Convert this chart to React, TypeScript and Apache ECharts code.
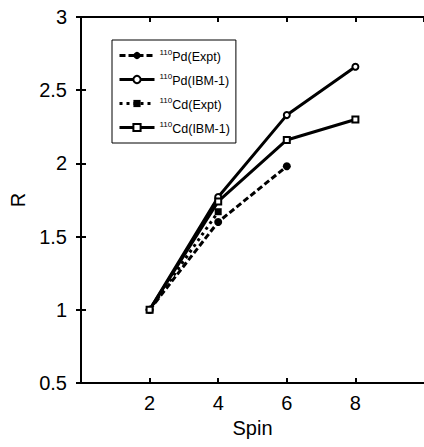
import React, { useEffect, useRef } from "react";
import * as echarts from "echarts";

const spins = [2, 4, 6, 8];
const pdExpt = [1.0, 1.6, 1.98];
const pdIbm = [1.0, 1.77, 2.33, 2.66];
const cdExpt = [1.0, 1.67];
const cdIbm = [1.0, 1.74, 2.16, 2.3];
const yTicks = [0.5, 1, 1.5, 2, 2.5, 3];

const pairs = (vals: number[]) => vals.map((v, i) => [spins[i], v]);

export default function App() {
  const ref = useRef<HTMLDivElement>(null);
  useEffect(() => {
    if (!ref.current) return;
    const chart = echarts.init(ref.current, null, { renderer: "svg" });
    const font = "Liberation Sans, Arial, sans-serif";
    const axisCommon = {
      axisLine: { lineStyle: { color: "#000", width: 2 } },
      axisTick: { inside: true, length: 5, lineStyle: { color: "#000", width: 2 } },
      splitLine: { show: false },
    };
    const mkName = (iso: string, name: string) => `{sup|${iso}}{n|${name}}`;
    chart.setOption({
      animation: false,
      backgroundColor: "#fff",
      textStyle: { fontFamily: font },
      grid: { left: 80, top: 17, right: -1, bottom: 64, containLabel: false },
      legend: {
        orient: "vertical",
        left: 112,
        top: 40,
        padding: [8, 6, 8, 6],
        itemWidth: 35,
        itemHeight: 9,
        itemGap: 9,
        borderColor: "#000",
        borderWidth: 1,
        backgroundColor: "#fff",
        lineStyle: { width: 3 },
        data: ["pdExpt", "pdIbm", "cdExpt", "cdIbm"],
        formatter: (name: string) => {
          const m: Record<string, string> = {
            pdExpt: mkName("110", "Pd(Expt)"),
            pdIbm: mkName("110", "Pd(IBM-1)"),
            cdExpt: mkName("110", "Cd(Expt)"),
            cdIbm: mkName("110", "Cd(IBM-1)"),
          };
          return m[name];
        },
        textStyle: {
          fontFamily: font,
          color: "#000",
          rich: {
            sup: { fontSize: 8, lineHeight: 15, verticalAlign: "top", fontFamily: font, color: "#000" },
            n: { fontSize: 12.5, lineHeight: 15, verticalAlign: "bottom", fontFamily: font, color: "#000" },
          },
        },
      },
      xAxis: [
        {
          type: "value",
          min: 0,
          max: 10,
          interval: 2,
          name: "Spin",
          nameLocation: "middle",
          nameGap: 32,
          nameTextStyle: { fontSize: 20, color: "#000", fontFamily: font },
          axisLabel: {
            fontSize: 20,
            color: "#000",
            margin: 10,
            fontFamily: font,
            showMinLabel: false,
            showMaxLabel: false,
            formatter: (v: number) => (v === 0 || v === 10 ? "" : String(v)),
          },
          ...axisCommon,
        },
        {
          type: "value",
          position: "top",
          min: 0,
          max: 10,
          interval: 2,
          axisLabel: { show: false },
          ...axisCommon,
        },
      ],
      yAxis: [
        {
          type: "value",
          min: yTicks[0],
          max: yTicks[yTicks.length - 1],
          interval: 0.5,
          name: "R",
          nameLocation: "middle",
          nameGap: 53,
          nameTextStyle: { fontSize: 20, color: "#000", fontFamily: font },
          axisLabel: { fontSize: 20, color: "#000", margin: 14, fontFamily: font },
          ...axisCommon,
        },
        {
          type: "value",
          position: "right",
          min: yTicks[0],
          max: yTicks[yTicks.length - 1],
          interval: 0.5,
          axisLabel: { show: false },
          ...axisCommon,
        },
      ],
      series: [
        {
          name: "pdExpt",
          type: "line",
          data: pairs(pdExpt),
          symbol: "circle",
          symbolSize: 8,
          itemStyle: { color: "#000" },
          lineStyle: { color: "#000", width: 3, type: [6, 3] },
          z: 3,
        },
        {
          name: "pdIbm",
          type: "line",
          data: pairs(pdIbm),
          symbol: "emptyCircle",
          symbolSize: 6,
          itemStyle: { color: "#000", borderColor: "#555", borderWidth: 1 },
          lineStyle: { color: "#000", width: 3 },
          z: 4,
        },
        {
          name: "cdExpt",
          type: "line",
          data: pairs(cdExpt),
          symbol: "rect",
          symbolSize: 7,
          itemStyle: { color: "#000" },
          lineStyle: { color: "#000", width: 3, type: [3, 4] },
          z: 3,
        },
        {
          name: "cdIbm",
          type: "line",
          data: pairs(cdIbm),
          symbol: "emptyRect",
          symbolSize: 6,
          itemStyle: { color: "#000", borderColor: "#000", borderWidth: 1.2 },
          lineStyle: { color: "#000", width: 3 },
          z: 4,
        },
      ],
    });
    return () => chart.dispose();
  }, []);
  return <div ref={ref} style={{ width: 424, height: 447, position: "absolute", left: 0, top: 0 }} />;
}
